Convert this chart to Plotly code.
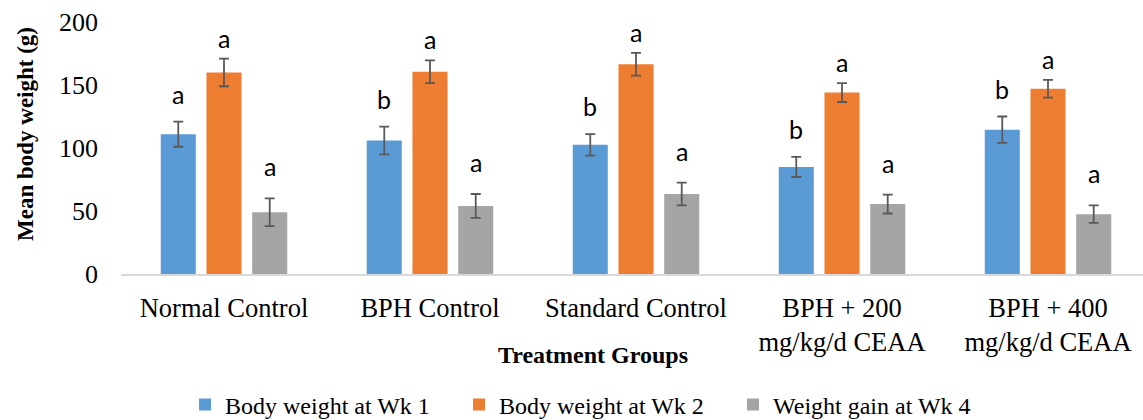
import plotly.graph_objects as go

categories = ["Normal Control", "BPH Control", "Standard Control",
              "BPH + 200<br>mg/kg/d CEAA", "BPH + 400<br>mg/kg/d CEAA"]
series_names = ["Body weight at Wk 1", "Body weight at Wk 2", "Weight gain at Wk 4"]
wk1 = [111, 106, 102.5, 85, 114.5]
wk1_err = [10, 11, 8.5, 8, 10.5]
wk2 = [160, 160.5, 166.5, 144, 147]
wk2_err = [11, 9, 9, 7.5, 7]
gain = [49, 54, 63.5, 55.5, 47.5]
gain_err = [11, 9.5, 9, 7.5, 7]
letters_wk1 = ["a", "b", "b", "b", "b"]
letters_wk2 = ["a", "a", "a", "a", "a"]
letters_gain = ["a", "a", "a", "a", "a"]

colors = ["#5B9BD5", "#ED7D31", "#A5A5A5"]
values = [wk1, wk2, gain]
errors = [wk1_err, wk2_err, gain_err]
letters = [letters_wk1, letters_wk2, letters_gain]

W, H = 1143, 420
ML, MR, MT, MB = 121, 0, 22, 146
cat_px = 206.0
plot_w = W - ML - MR
bargap = 0.334
bargroupgap = 0.234
slot_px = cat_px * (1 - bargap) / 3
label_gap = [11, 4, 15]

fig = go.Figure()
for i in range(3):
    fig.add_trace(go.Bar(
        x=categories, y=values[i], name=series_names[i],
        marker=dict(color=colors[i], line=dict(width=0)),
        error_y=dict(type="data", array=errors[i], visible=True,
                     color="#595959", thickness=1.8, width=5),
    ))
    for j, c in enumerate(categories):
        fig.add_annotation(
            x=c, y=values[i][j] + errors[i][j], text=letters[i][j],
            showarrow=False, xanchor="center", yanchor="bottom",
            xshift=(i - 1) * slot_px, yshift=label_gap[i],
            font=dict(family="Lato", size=25, color="#000000"),
        )

fig.add_annotation(
    xref="paper", yref="paper", x=(593 - ML) / plot_w, y=-(355 - (H - MB)) / (H - MT - MB),
    text="<b>Treatment Groups</b>", showarrow=False, xanchor="center", yanchor="middle",
    font=dict(family="Liberation Serif", size=24, color="#000000"),
)
fig.add_annotation(
    xref="paper", yref="paper", x=-(ML - 25) / plot_w, y=((H - MB) - 134) / (H - MT - MB),
    text="<b>Mean body weight (g)</b>", showarrow=False, textangle=-90,
    xanchor="center", yanchor="middle",
    font=dict(family="Liberation Serif", size=23, color="#000000"),
)

fig.update_layout(
    width=W, height=H,
    margin=dict(l=ML, r=MR, t=MT, b=MB, pad=0),
    paper_bgcolor="white", plot_bgcolor="white",
    barmode="group", bargap=bargap, bargroupgap=bargroupgap,
    showlegend=True,
    legend=dict(orientation="h", xref="container", yref="container",
                x=185 / W, y=1 - 405 / H, xanchor="left", yanchor="middle",
                font=dict(family="Liberation Serif", size=24, color="#000000"),
                entrywidth=229, entrywidthmode="pixels",
                itemclick=False, itemdoubleclick=False),
    xaxis=dict(range=[-0.5, -0.5 + plot_w / cat_px], showline=True,
               linecolor="#D9D9D9", linewidth=1.5, showgrid=False, ticks="",
               tickfont=dict(family="Liberation Serif", size=26.5, color="#000000"),
               ticklabelstandoff=9, fixedrange=True),
    yaxis=dict(range=[0, 200], tickvals=[0, 50, 100, 150, 200], showgrid=False,
               zeroline=False, showline=False, ticks="",
               tickfont=dict(family="Liberation Serif", size=26, color="#000000"),
               ticklabelstandoff=22, fixedrange=True),
)

fig.write_html("out.html")
